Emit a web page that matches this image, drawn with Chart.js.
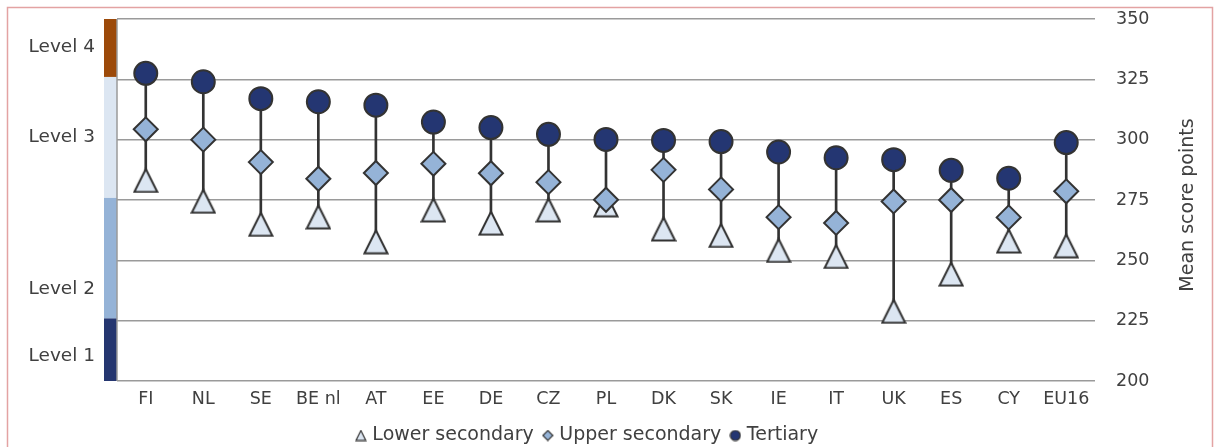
<!DOCTYPE html>
<html>
<head>
<meta charset="utf-8">
<script src="https://cdn.jsdelivr.net/npm/chart.js@4/dist/chart.umd.min.js"></script>
<style>
	html, body { margin: 0; padding: 0; background: #fff; }
	#wrap { width: 1215px; height: 447px; }
</style>
</head>
<body>
<div id="wrap"><canvas id="scoreChart"></canvas></div>
<script>
// 국가 목록
const countries = ['FI', 'NL', 'SE', 'BE nl', 'AT', 'EE', 'DE', 'CZ', 'PL', 'DK', 'SK', 'IE', 'IT', 'UK', 'ES', 'CY', 'EU16'];
// 학력별 평균 점수
const lowerSecondary = [283.1, 274.5, 264.9, 268.0, 257.7, 270.9, 265.4, 270.9, 273.0, 263.0, 260.3, 254.1, 251.6, 228.9, 244.3, 258.0, 256.0];
const upperSecondary = [304.3, 300.0, 290.7, 283.8, 286.2, 290.0, 286.1, 282.4, 275.1, 287.5, 279.4, 267.9, 265.5, 274.4, 275.0, 267.8, 278.6];
const tertiary = [327.5, 324.0, 317.0, 315.7, 314.3, 307.3, 305.0, 302.2, 300.1, 299.7, 299.2, 294.9, 292.5, 291.7, 287.3, 284.0, 298.8];
// 축 눈금
const yTicks = [200, 225, 250, 275, 300, 325, 350];
// 레벨 구간
const levelNames = ['Level 1', 'Level 2', 'Level 3', 'Level 4'];
const levelFrom = [176, 226, 276, 326];
const levelTo = [226, 276, 326, 376];
const levelLabelAt = [210.4, 238.1, 301, 338.3];
const levelColors = ['#253670', '#95B3D7', '#DCE6F2', '#9C4A0A'];

const textColor = '#404040';
const edgeColor = '#333333';
const gridColor = '#9a9a9a';

function triangleImage(size, lw){
	var c = document.createElement('canvas');
	c.width = size;
	c.height = size;
	var ctx = c.getContext('2d');
	var h = lw / 2 + 0.5;
	ctx.beginPath();
	ctx.moveTo(size / 2, h);
	ctx.lineTo(size - h, size - h);
	ctx.lineTo(h, size - h);
	ctx.closePath();
	ctx.fillStyle = '#DCE6F2';
	ctx.fill();
	ctx.lineWidth = lw;
	ctx.strokeStyle = edgeColor;
	ctx.stroke();
	return c;
}

function smallMarker(kind){
	var c = document.createElement('canvas');
	c.width = 12;
	c.height = 12;
	var ctx = c.getContext('2d');
	ctx.beginPath();
	if(kind == 'diamond'){
		ctx.moveTo(6, 1);
		ctx.lineTo(11, 6);
		ctx.lineTo(6, 11);
		ctx.lineTo(1, 6);
		ctx.closePath();
		ctx.fillStyle = '#95B3D7';
	} else {
		ctx.arc(6, 6, 5, 0, Math.PI * 2);
		ctx.fillStyle = '#243672';
	}
	ctx.fill();
	ctx.lineWidth = 1.2;
	ctx.strokeStyle = edgeColor;
	ctx.stroke();
	return c;
}

const bigTriangle = triangleImage(26, 2);
const legendMarkers = [triangleImage(12, 1.2), smallMarker('diamond'), smallMarker('circle')];

// 최저~최고 연결선
const spans = countries.map(function(c, i){
	return [Math.min(lowerSecondary[i], upperSecondary[i], tertiary[i]),
		Math.max(lowerSecondary[i], upperSecondary[i], tertiary[i])];
});

const levelPlugin = {
	id: 'levels',
	beforeDraw: function(chart){
		var ctx = chart.ctx;
		var area = chart.chartArea;
		var y = chart.scales.y;
		ctx.save();
		ctx.fillStyle = '#fff';
		ctx.fillRect(0, 0, chart.width, chart.height);
		// 바깥 테두리
		ctx.strokeStyle = '#E3A3A3';
		ctx.lineWidth = 1.5;
		ctx.strokeRect(7.5, 7.5, chart.width - 10, chart.height + 20);
		// 레벨 색 띠
		for(var i=0; i<levelNames.length; i++){
			var top = y.getPixelForValue(Math.min(levelTo[i], y.max));
			var bottom = y.getPixelForValue(Math.max(levelFrom[i], y.min));
			ctx.fillStyle = levelColors[i];
			ctx.fillRect(area.left - 13, top, 13, bottom - top);
			ctx.fillStyle = textColor;
			ctx.font = '18.5px "DejaVu Sans"';
			ctx.textAlign = 'right';
			ctx.textBaseline = 'middle';
			ctx.fillText(levelNames[i], area.left - 22, y.getPixelForValue(levelLabelAt[i]));
		}
		ctx.restore();
	},
	afterDraw: function(chart){
		var ctx = chart.ctx;
		var area = chart.chartArea;
		ctx.save();
		ctx.strokeStyle = gridColor;
		ctx.lineWidth = 1.5;
		ctx.beginPath();
		ctx.moveTo(area.left, area.top);
		ctx.lineTo(area.left, area.bottom);
		ctx.stroke();
		// 세로 축 제목
		ctx.translate(1188, (area.top + area.bottom) / 2 + 5);
		ctx.rotate(-Math.PI / 2);
		ctx.fillStyle = textColor;
		ctx.font = '19px "DejaVu Sans"';
		ctx.textAlign = 'center';
		ctx.textBaseline = 'middle';
		ctx.fillText('Mean score points', 0, 0);
		ctx.restore();
	}
};

const data = {
	labels: countries,
	datasets: [{
		type: 'line',
		label: 'Tertiary',
		data: tertiary,
		yAxisID: 'y',
		showLine: false,
		pointStyle: 'circle',
		pointRadius: 11.5,
		pointBackgroundColor: '#243672',
		pointBorderColor: edgeColor,
		pointBorderWidth: 2,
		order: 0
	}, {
		type: 'line',
		label: 'Upper secondary',
		data: upperSecondary,
		yAxisID: 'y',
		showLine: false,
		pointStyle: 'rectRot',
		pointRadius: 12,
		pointBackgroundColor: '#95B3D7',
		pointBorderColor: edgeColor,
		pointBorderWidth: 2,
		order: 1
	}, {
		type: 'line',
		label: 'Lower secondary',
		data: lowerSecondary,
		yAxisID: 'y',
		showLine: false,
		pointStyle: bigTriangle,
		pointRadius: 13,
		order: 2
	}, {
		type: 'bar',
		label: 'range',
		data: spans,
		yAxisID: 'y',
		backgroundColor: edgeColor,
		barThickness: 2,
		order: 3
	}]
};

const config = {
	data: data,
	plugins: [levelPlugin],
	options: {
		responsive: true,
		maintainAspectRatio: false,
		animation: false,
		events: [],
		layout: {
			padding: { left: 0, right: 38, top: 19, bottom: -8 }
		},
		plugins: {
			tooltip: { enabled: false },
			legend: {
				position: 'bottom',
				labels: {
					usePointStyle: true,
					boxWidth: 4,
					padding: 12,
					color: textColor,
					font: { family: 'DejaVu Sans', size: 19 },
					generateLabels: function(chart){
						var names = ['Lower secondary', 'Upper secondary', 'Tertiary'];
						var idx = [2, 1, 0];
						return names.map(function(n, k){
							return {
								text: n,
								pointStyle: legendMarkers[k],
								fillStyle: '#fff',
								strokeStyle: '#fff',
								lineWidth: 0,
								fontColor: textColor,
								datasetIndex: idx[k],
								hidden: false
							};
						});
					}
				}
			}
		},
		scales: {
			x: {
				grid: { display: false, drawTicks: false },
				border: { display: false },
				ticks: {
					color: textColor,
					padding: 8,
					maxRotation: 0,
					font: { family: 'DejaVu Sans', size: 17.5 }
				},
				afterFit: function(scale){ scale.height = 33; }
			},
			// 왼쪽 레벨 표시 자리
			yl: {
				position: 'left',
				grid: { display: false, drawTicks: false },
				border: { display: false },
				ticks: { display: false },
				afterFit: function(scale){ scale.width = 117; }
			},
			y: {
				position: 'right',
				min: 200,
				max: 350,
				afterBuildTicks: function(scale){
					scale.ticks = yTicks.map(function(v){ return { value: v }; });
				},
				grid: { color: gridColor, lineWidth: 1.5, drawTicks: true, tickLength: 20, tickColor: 'rgba(0,0,0,0)' },
				border: { display: false },
				ticks: {
					color: textColor,
					padding: 1,
					font: { family: 'DejaVu Sans', size: 17.5 }
				},
				afterFit: function(scale){ scale.width = 82; }
			}
		}
	}
};

const myChart = new Chart(document.getElementById('scoreChart'), config);
</script>
</body>
</html>
